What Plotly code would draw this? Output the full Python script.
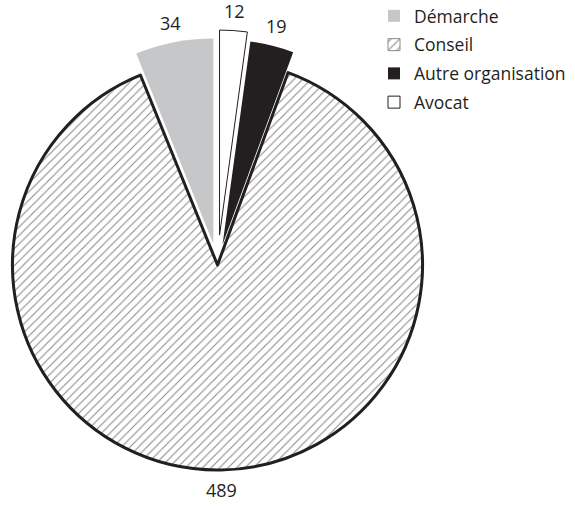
import math
import plotly.graph_objects as go

# slice data, clockwise from 12 o'clock
labels = ["Avocat", "Autre organisation", "Conseil", "Démarche"]
values = [12, 19, 489, 34]
# legend order (top to bottom)
legend_labels = ["Démarche", "Conseil", "Autre organisation", "Avocat"]

W, H = 575, 506
CX, CY, R = 217.5, 265, 205          # pie centre / radius in px
PULL = {"Avocat": 30, "Autre organisation": 21, "Conseil": 0, "Démarche": 22}
LABEL_GAP = 20

INK = "#231f20"
HATCH_INK = "#8a8a8a"
FILL = {"Avocat": "white", "Autre organisation": INK, "Conseil": "white", "Démarche": "#c6c7c8"}
LINE_W = {"Avocat": 1, "Autre organisation": 0, "Conseil": 3, "Démarche": 0}
HATCH = {"Conseil": "/"}
FONT = "Open Sans"

fig = go.Figure()

total = sum(values)
start = 0.0
for k, lab in enumerate(labels):
    span = values[k] / total * 360
    mid = math.radians(start + span / 2)
    start += span
    cx = CX + PULL[lab] * math.sin(mid)
    cy = CY - PULL[lab] * math.cos(mid)
    on = [l == lab for l in labels]
    fig.add_trace(go.Pie(
        labels=labels, values=values, sort=False, direction="clockwise", rotation=0,
        domain=dict(x=[(cx - R) / W, (cx + R) / W], y=[1 - (cy + R) / H, 1 - (cy - R) / H]),
        marker=dict(
            colors=[FILL[l] if o else "rgba(0,0,0,0)" for l, o in zip(labels, on)],
            line=dict(color=INK, width=[LINE_W[l] if o else 0 for l, o in zip(labels, on)]),
            pattern=dict(shape=[HATCH.get(l, "") if o else "" for l, o in zip(labels, on)],
                         fgcolor=HATCH_INK, bgcolor="white", size=6, solidity=0.18),
        ),
        textinfo="none", hoverinfo="skip", showlegend=False,
    ))
    # value label just outside the slice, along its middle angle
    fig.add_annotation(
        text=str(values[k]), showarrow=False, xref="paper", yref="paper",
        x=(cx + (R + LABEL_GAP) * math.sin(mid)) / W,
        y=1 - (cy - (R + LABEL_GAP) * math.cos(mid)) / H,
        xanchor="center", yanchor="middle",
        font=dict(family=FONT, size=18, color=INK),
    )

# legend entries (tiny pies hidden under the legend box)
for g, lab in enumerate(legend_labels):
    fig.add_trace(go.Pie(
        labels=[lab], values=[1], sort=False,
        domain=dict(x=[0.9, 0.901], y=[0.95, 0.951]),
        marker=dict(colors=[FILL[lab]],
                    line=dict(color=HATCH_INK if lab == "Conseil" else INK,
                              width=1 if lab in ("Conseil", "Avocat") else 0),
                    pattern=dict(shape=[HATCH.get(lab, "")], fgcolor=HATCH_INK,
                                 bgcolor="white", size=6, solidity=0.18)),
        textinfo="none", hoverinfo="skip", legendgroup=lab, showlegend=True,
    ))

fig.update_layout(
    width=W, height=H,
    margin=dict(l=0, r=0, t=0, b=0, autoexpand=False),
    paper_bgcolor="white", plot_bgcolor="white",
    showlegend=True,
    legend=dict(x=(414 - 40) / W, y=1 + 2 / H, xanchor="left", yanchor="top",
                traceorder="grouped", tracegroupgap=3, bgcolor="white",
                font=dict(family=FONT, size=17.5, color=INK)),
)

# drop the default 8px page margin so the figure sits at the window corner
fig.write_html("out.html", config={"displayModeBar": False},
               post_script="document.body.style.margin = '0';")
